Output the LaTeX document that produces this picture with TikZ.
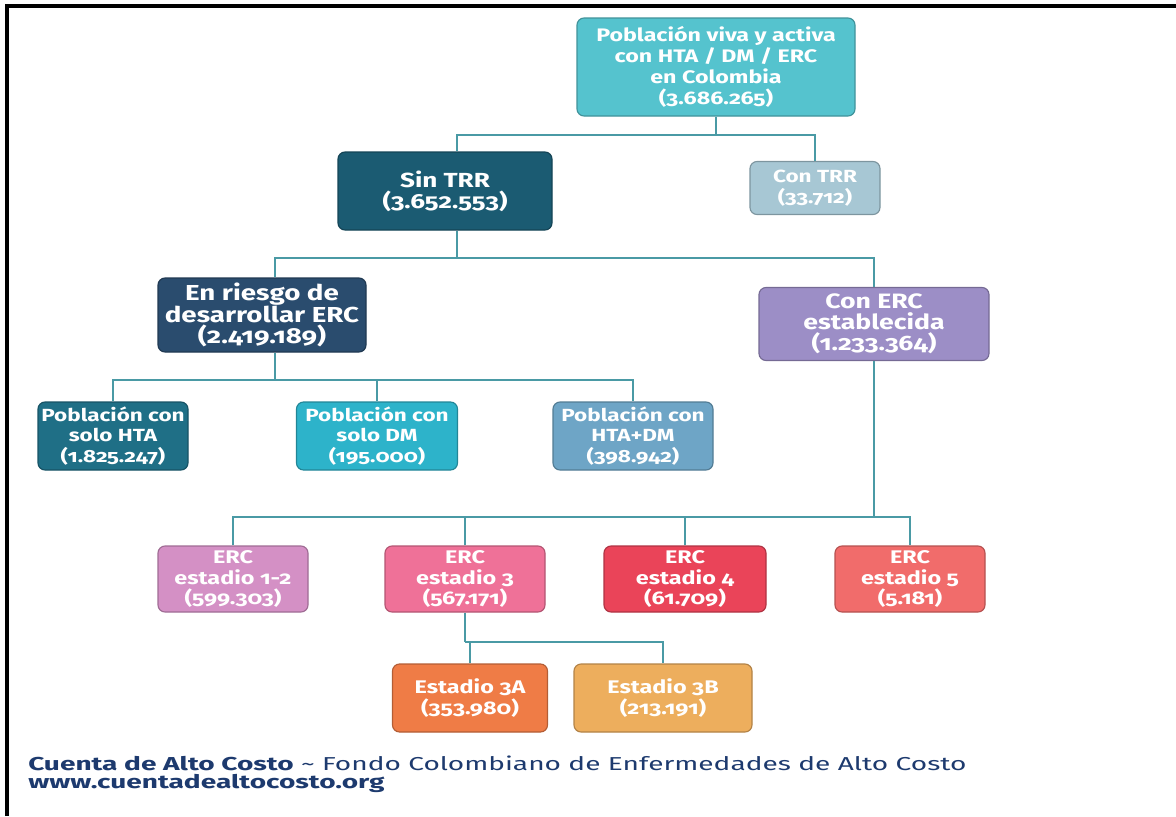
\documentclass[tikz,border=0pt]{standalone}
\usepackage{fontspec}
\setmainfont{Fira Sans}[Numbers=OldStyle, FakeStretch=1.28]
\newfontfamily\footfont{Fira Sans}[FakeStretch=1.5]
\usetikzlibrary{positioning}

\definecolor{cTop}{HTML}{55C3CE}
\definecolor{cSin}{HTML}{1B5B72}
\definecolor{cCon}{HTML}{A7C7D4}
\definecolor{cRiesgo}{HTML}{2A4C6E}
\definecolor{cEst}{HTML}{9C8EC6}
\definecolor{cHTA}{HTML}{1F6F86}
\definecolor{cDM}{HTML}{2DB3CA}
\definecolor{cHD}{HTML}{6EA5C6}
\definecolor{cEa}{HTML}{D490C5}
\definecolor{cEb}{HTML}{EF7198}
\definecolor{cEc}{HTML}{EA4459}
\definecolor{cEd}{HTML}{F16C6B}
\definecolor{cTa}{HTML}{EF7C46}
\definecolor{cTb}{HTML}{EDAE5D}
\definecolor{cLine}{HTML}{4A9AA5}
\definecolor{cFoot}{HTML}{1D3A6E}

\newcommand\fsz[1]{\bfseries\fontsize{#1}{14.8}\selectfont}

\begin{document}
\begin{tikzpicture}[x=0.025cm, y=-0.025cm,
    box/.style={rounded corners=5pt, draw=#1!75!black, line width=0.8pt,
      fill=#1, text=white, align=center, font=\fsz{12.5}, inner sep=0pt},
    conn/.style={draw=cLine, line width=1.3pt}]
  \def\bw{150}   % box width (px)
  \def\bh{68}    % box height (px)

  % ----- frame -----
  \useasboundingbox (0,0) rectangle (1176,816);
  \draw[line width=2.2pt] (7,816) -- (7,6) -- (1176,6);

  % ----- levels 1 and 2 -----
  \node[box=cTop, font=\fsz{12.9}, minimum width=278*0.025cm, minimum height=98*0.025cm]
    (top) at (716,67) {Población viva y activa\\con HTA / DM / ERC\\en Colombia\\(3.686.265)};
  \node[box=cSin, font=\fsz{14.5}, minimum width=214*0.025cm, minimum height=78*0.025cm]
    (sin) at (445,191) {Sin TRR\\(3.652.553)};
  \node[box=cCon, minimum width=130*0.025cm, minimum height=53*0.025cm]
    (con) at (815,188) {Con TRR\\(33.712)};
  \node[box=cRiesgo, font=\fsz{15.4}, minimum width=208*0.025cm, minimum height=74*0.025cm]
    (riesgo) at (262,315) {En riesgo de\\desarrollar ERC\\(2.419.189)};
  \node[box=cEst, font=\fsz{14.8}, minimum width=230*0.025cm, minimum height=73*0.025cm]
    (est) at (874,324) {Con ERC\\establecida\\(1.233.364)};

  % ----- at risk -----
  \node[box=cHTA, minimum width=\bw*0.025cm, minimum height=\bh*0.025cm]
    (hta) at (113,436) {Población con\\solo HTA\\(1.825.247)};
  \node[box=cDM, minimum width=161*0.025cm, minimum height=\bh*0.025cm]
    (dm) at (377,436) {Población con\\solo DM\\(195.000)};
  \node[box=cHD, minimum width=160*0.025cm, minimum height=\bh*0.025cm]
    (hd) at (633,436) {Población con\\HTA+DM\\(398.942)};

  % ----- stages -----
  \node[box=cEa, font=\fsz{13}, minimum width=\bw*0.025cm, minimum height=66*0.025cm]
    (e12) at (233,579) {ERC\\estadio 1-2\\(599.303)};
  \node[box=cEb, font=\fsz{13}, minimum width=160*0.025cm, minimum height=66*0.025cm]
    (e3) at (465,579) {ERC\\estadio 3\\(567.171)};
  \node[box=cEc, font=\fsz{13}, minimum width=162*0.025cm, minimum height=66*0.025cm]
    (e4) at (685,579) {ERC\\estadio 4\\(61.709)};
  \node[box=cEd, font=\fsz{13}, minimum width=\bw*0.025cm, minimum height=66*0.025cm]
    (e5) at (910,579) {ERC\\estadio 5\\(5.181)};
  \node[box=cTa, font=\fsz{13}, minimum width=155*0.025cm, minimum height=68*0.025cm]
    (e3a) at (470,698) {Estadio 3A\\(353.980)};
  \node[box=cTb, font=\fsz{13}, minimum width=178*0.025cm, minimum height=68*0.025cm]
    (e3b) at (663,698) {Estadio 3B\\(213.191)};

  % ----- connectors -----
  \coordinate (j1) at (716,135);
  \coordinate (j2) at (457,258);
  \coordinate (j3) at (275,380);
  \coordinate (j4) at (874,517);
  \coordinate (j5) at (465,642);
  \draw[conn] (top) -- (j1);
  \draw[conn] (sin.north -| j2) |- (j1) -| (con.north);
  \draw[conn] (sin.south -| j2) -- (j2);
  \draw[conn] (riesgo.north -| j3) |- (j2) -| (est.north);
  \draw[conn] (riesgo.south -| j3) -- (j3);
  \draw[conn] (hta.north) |- (j3) -| (hd.north);
  \draw[conn] (dm.north) -- (dm.north |- j3);
  \draw[conn] (est.south) -- (j4);
  \draw[conn] (e12.north) |- (j4) -| (e5.north);
  \draw[conn] (e3.north) -- (e3.north |- j4);
  \draw[conn] (e4.north) -- (e4.north |- j4);
  \draw[conn] (e3.south) -- (j5);
  \draw[conn] (e3a.north) |- (j5) -| (e3b.north);

  % ----- footer -----
  \node[anchor=north west, align=left, text=cFoot,
    font=\footfont\fontsize{13.3}{12.3}\selectfont, inner sep=0pt] (foot) at (28,756)
    {\textbf{Cuenta de Alto Costo} \textasciitilde{} Fondo Colombiano de Enfermedades de Alto Costo\\
     \textbf{www.cuentadealtocosto.org}};
\end{tikzpicture}
\end{document}
